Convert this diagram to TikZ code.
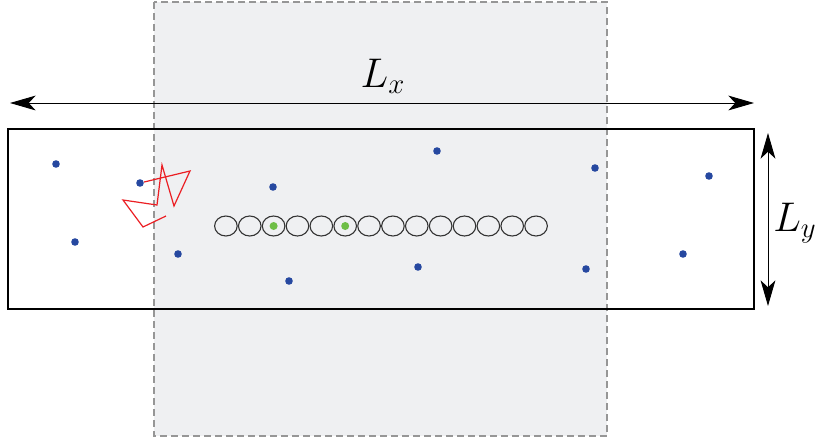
\documentclass[tikz,border=0pt]{standalone}
\usepackage{amsmath}
\usepackage{tikz}
\usetikzlibrary{arrows.meta,positioning,calc,shapes.geometric}
\usepackage{xcolor}
\definecolor{domaingray}{RGB}{239,240,242}
\definecolor{dashgray}{RGB}{150,150,150}
\definecolor{dotblue}{RGB}{38,72,160}
\definecolor{dotgreen}{RGB}{110,190,70}
\definecolor{walkred}{RGB}{235,30,35}
\tikzset{
  periodicbox/.style={draw=dashgray, fill=domaingray, line width=0.7pt, dash pattern=on 3.5pt off 2pt},
  cellbox/.style={draw=black, line width=1pt},
  dimarrow/.style={{Stealth[length=4.5mm,width=2.6mm,inset=1.2mm]}-{Stealth[length=4.5mm,width=2.6mm,inset=1.2mm]}, line width=0.5pt},
  bead/.style={ellipse, draw=black!80, line width=0.55pt, minimum width=11.3pt, minimum height=10pt, inner sep=0pt},
  bdot/.style={circle, fill=dotblue, minimum size=3.8pt, inner sep=0pt},
  gdot/.style={circle, fill=dotgreen, minimum size=4pt, inner sep=0pt},
  walk/.style={draw=walkred, line width=0.6pt},
  dimlabel/.style={font=\fontsize{21}{24}\selectfont}
}

\begin{document}
\begin{tikzpicture}[x=0.5pt, y=-0.5pt]
\useasboundingbox (0,0) rectangle (816,440);
% periodic domain and simulation cell
\draw[periodicbox] (154,2) rectangle (607,436);
\draw[cellbox] (8,129) rectangle (754,309);
% dimensions
\coordinate (xl) at (10,103);
\coordinate (xr) at (754,103);
\coordinate (yt) at (768,133);
\coordinate (yb) at (768,306);
\draw[dimarrow] (xl) -- (xr);
\draw[dimarrow] (yt) -- (yb);
\node[dimlabel] (lx) at (383,76) {$L_x$};
\node[dimlabel] (ly) at (795,223) {$L_y$};
% chain of beads
\foreach \i in {0,...,13} {
  \node[bead] (c\i) at ({225.9+23.86*\i},226) {};
}
\node[gdot] (g1) at (c2) {};
\node[gdot] (g2) at (c5) {};
% solvent particles
\foreach \n/\x/\y in {1/56/164, 2/140/183, 3/75/242, 4/178/254, 5/273/187, 6/289/281,
                      7/437/151, 8/418/267, 9/595/168, 10/586/269, 11/709/176, 12/683/254} {
  \node[bdot] (b\n) at (\x,\y) {};
}
% random walk of one particle
\coordinate (w1) at (190,171);
\coordinate (w2) at (174,206);
\coordinate (w3) at (162,165);
\coordinate (w4) at (157,205);
\coordinate (w5) at (123,200);
\coordinate (w6) at (143,227);
\coordinate (w7) at (166,216);
\draw[walk] (b2) -- (w1) -- (w2) -- (w3) -- (w4) -- (w5) -- (w6) -- (w7);
\end{tikzpicture}
\end{document}
